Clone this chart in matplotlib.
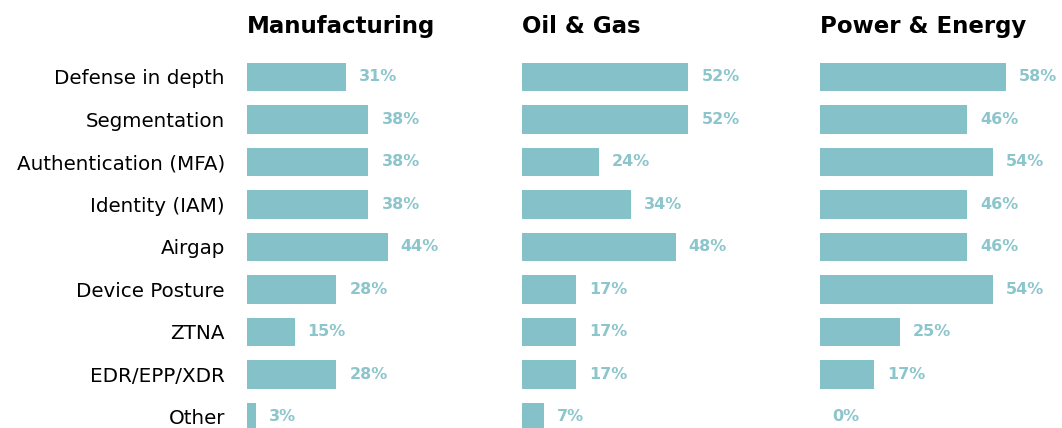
import numpy as np
import matplotlib.pyplot as plt

categories = ["Defense in depth", "Segmentation", "Authentication (MFA)",
              "Identity (IAM)", "Airgap", "Device Posture", "ZTNA",
              "EDR/EPP/XDR", "Other"]
sectors = ["Manufacturing", "Oil & Gas", "Power & Energy"]
manufacturing = [31, 38, 38, 38, 44, 28, 15, 28, 3]
oil_gas = [52, 52, 24, 34, 48, 17, 17, 17, 7]
power_energy = [58, 46, 54, 46, 46, 54, 25, 17, 0]

bar_color = "#85c1c8"
label_color = "#8cc5cb"
plt.rcParams['font.family'] = ['DejaVu Sans']

W, H = 1062, 428
fig = plt.figure(figsize=(W / 100, H / 100), dpi=100)

px_per_pct = 3.21
starts = [246.5, 521.5, 819.5]
xmax = 70
row_h = 42.5
top = 77 - row_h / 2
y = np.arange(len(categories))

for i, (name, vals) in enumerate(zip(sectors, [manufacturing, oil_gas, power_energy])):
    ax = fig.add_axes([starts[i] / W, 0, xmax * px_per_pct / W, (H - top) / H])
    ax.barh(y, vals, height=0.66, color=bar_color)
    ax.set_xlim(0, xmax)
    ax.set_ylim(8.5 - (top + 9 * row_h - H) / row_h, -0.5)
    for yi, v in zip(y, vals):
        ax.text(v + 13 / px_per_pct, yi, f"{v}%", va="center", ha="left",
                color=label_color, fontsize=11.5, fontweight="bold", clip_on=False)
    ax.set_xticks([])
    if i == 0:
        ax.set_yticks(y)
        ax.set_yticklabels(categories, fontsize=14.3)
        ax.tick_params(axis="y", length=0, pad=15.5)
    else:
        ax.set_yticks([])
    for s in ax.spines.values():
        s.set_visible(False)
    fig.text(starts[i] / W, 1 - 33 / H, name, fontsize=16.5, fontweight="bold",
             ha="left", va="baseline")

fig.savefig("out.png", dpi=100)
